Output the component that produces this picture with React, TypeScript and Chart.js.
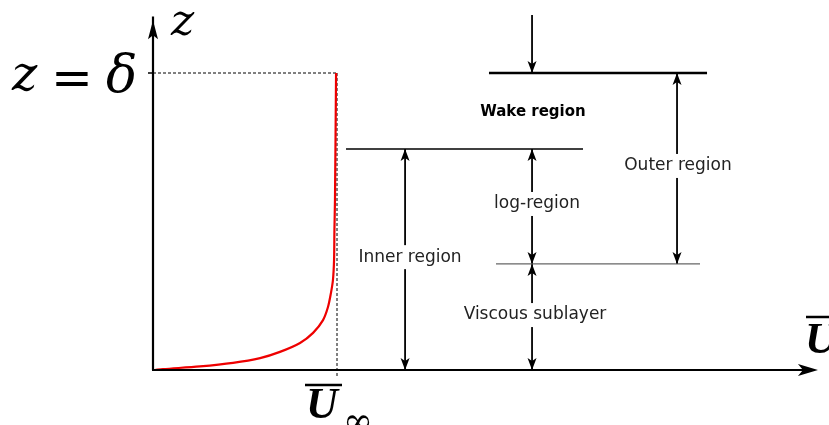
import React, { useEffect, useRef } from "react";
import { Chart, registerables } from "chart.js";

Chart.register(...registerables);

// Mean velocity profile (U / U_inf, z / delta)
const curveU = [0.011, 0.054, 0.255, 0.435, 0.582, 0.690, 0.799, 0.870, 0.924, 0.951, 0.967, 0.978, 0.984, 0.986, 0.989, 0.995];
const curveZ = [0.0, 0.003, 0.012, 0.024, 0.040, 0.061, 0.091, 0.125, 0.168, 0.212, 0.259, 0.303, 0.370, 0.471, 0.572, 1.0];

// Region boundaries (z / delta) and their horizontal extent
const boundaryZ = [1.0, 0.744, 0.357];
const boundaryX0 = [1.826, 1.049, 1.864];
const boundaryX1 = [3.011, 2.337, 2.973];
const boundaryWidth = [2.5, 1.6, 1.2];
const boundaryColor = ["#000000", "#000000", "#666666"];

// Vertical dimension arrows: x, from z, to z, heads
const arrowX = [1.370, 2.060, 2.060, 2.848, 2.060];
const arrowZ0 = [0.0, 0.357, 0.0, 0.357, 1.0];
const arrowZ1 = [0.744, 0.744, 0.357, 1.0, 1.195];
const arrowHeadLow = [true, true, true, true, true];
const arrowHeadHigh = [true, true, true, true, false];

// Region labels
const labelText = ["Wake region", "Outer region", "log-region", "Inner region", "Viscous sublayer"];
const labelX = [2.065, 2.853, 2.087, 1.397, 2.076];
const labelZ = [0.869, 0.687, 0.559, 0.380, 0.185];
const labelBold = [true, false, false, false, false];

const deltaZ = 1.0;
const uInf = 1.0;

export default function App() {
  const ref = useRef<HTMLCanvasElement | null>(null);
  useEffect(() => {
    if (!ref.current) return;
    const datasets: any[] = [];
    datasets.push({
      data: curveU.map((u, i) => ({ x: u, y: curveZ[i] })),
      borderColor: "#ee0000",
      borderWidth: 2.2,
      pointRadius: 0,
      showLine: true,
      tension: 0.3,
    });
    datasets.push({
      data: [{ x: 0, y: deltaZ }, { x: uInf, y: deltaZ }],
      borderColor: "#000",
      borderWidth: 1,
      borderDash: [3, 2],
      pointRadius: 0,
      showLine: true,
    });
    datasets.push({
      data: [{ x: uInf, y: deltaZ }, { x: uInf, y: -0.027 }],
      borderColor: "#000",
      borderWidth: 1,
      borderDash: [3, 2],
      pointRadius: 0,
      showLine: true,
    });
    boundaryZ.forEach((z, i) => {
      datasets.push({
        data: [{ x: boundaryX0[i], y: z }, { x: boundaryX1[i], y: z }],
        borderColor: boundaryColor[i],
        borderWidth: boundaryWidth[i],
        pointRadius: 0,
        showLine: true,
      });
    });
    arrowX.forEach((x, i) => {
      datasets.push({
        data: [{ x, y: arrowZ0[i] }, { x, y: arrowZ1[i] }],
        borderColor: "#000",
        borderWidth: 1.8,
        pointRadius: 0,
        showLine: true,
      });
    });

    const decor = {
      id: "decor",
      afterDatasetsDraw(chart: any) {
        const ctx = chart.ctx;
        const xs = chart.scales.x;
        const ys = chart.scales.y;
        const px = (v: number) => xs.getPixelForValue(v);
        const py = (v: number) => ys.getPixelForValue(v);
        ctx.save();
        // axes
        const ox = px(0), oy = py(0);
        ctx.strokeStyle = "#000";
        ctx.fillStyle = "#000";
        ctx.lineWidth = 2.2;
        ctx.beginPath();
        ctx.moveTo(ox, oy);
        ctx.lineTo(ox, py(1.19));
        ctx.moveTo(ox - 1, oy);
        ctx.lineTo(px(3.55), oy);
        ctx.stroke();
        // axis arrowheads
        const yt = py(1.178);
        ctx.beginPath();
        ctx.moveTo(ox, yt);
        ctx.lineTo(ox - 5, yt + 19);
        ctx.lineTo(ox, yt + 15);
        ctx.lineTo(ox + 5, yt + 19);
        ctx.closePath();
        ctx.fill();
        const xt = px(3.614);
        ctx.beginPath();
        ctx.moveTo(xt, oy);
        ctx.lineTo(xt - 20, oy - 6);
        ctx.lineTo(xt - 15, oy);
        ctx.lineTo(xt - 20, oy + 6);
        ctx.closePath();
        ctx.fill();
        // delta tick
        ctx.lineWidth = 1.5;
        ctx.beginPath();
        ctx.moveTo(ox - 5, py(deltaZ));
        ctx.lineTo(ox, py(deltaZ));
        ctx.stroke();
        // dimension arrowheads
        const head = (x: number, y: number, dir: number) => {
          ctx.beginPath();
          ctx.moveTo(x, y);
          ctx.lineTo(x - 4.5, y + dir * 12);
          ctx.lineTo(x, y + dir * 9);
          ctx.lineTo(x + 4.5, y + dir * 12);
          ctx.closePath();
          ctx.fill();
        };
        arrowX.forEach((x, i) => {
          if (arrowHeadLow[i]) head(px(x), py(arrowZ0[i]), -1);
          if (arrowHeadHigh[i]) head(px(x), py(arrowZ1[i]), 1);
        });
        // labels
        ctx.textAlign = "center";
        ctx.textBaseline = "middle";
        labelText.forEach((t, i) => {
          ctx.font = (labelBold[i] ? "bold 15px" : "17px") + " 'DejaVu Sans'";
          const w = ctx.measureText(t).width;
          const cx = px(labelX[i]), cy = py(labelZ[i]);
          ctx.fillStyle = "#fff";
          ctx.fillRect(cx - w / 2 - 4, cy - 12, w + 8, 24);
          ctx.fillStyle = labelBold[i] ? "#000" : "#222";
          ctx.fillText(t, cx, cy);
        });
        // math labels
        ctx.fillStyle = "#000";
        ctx.textAlign = "left";
        ctx.textBaseline = "alphabetic";
        ctx.font = "italic 44px 'DejaVu Serif'";
        ctx.fillText("z", 171, 35);
        ctx.font = "italic 48px 'DejaVu Serif'";
        ctx.fillText("z", 12, 90);
        ctx.font = "50px 'DejaVu Serif'";
        ctx.fillText("=", 51, 95);
        ctx.font = "italic 52px 'DejaVu Serif'";
        ctx.fillText("δ", 106, 92);
        // U_inf
        ctx.font = "italic bold 44px 'Liberation Serif'";
        ctx.fillText("U", 306, 418);
        ctx.lineWidth = 2.5;
        ctx.beginPath();
        ctx.moveTo(305, 385);
        ctx.lineTo(342, 385);
        ctx.stroke();
        ctx.font = "italic 36px 'DejaVu Serif'";
        ctx.fillText("∞", 343, 433);
        // U axis label
        ctx.font = "italic bold 44px 'Liberation Serif'";
        ctx.fillText("U", 805, 353);
        ctx.beginPath();
        ctx.moveTo(806, 317);
        ctx.lineTo(829, 317);
        ctx.stroke();
        ctx.restore();
      },
    };

    const chart = new Chart(ref.current, {
      type: "scatter",
      data: { datasets },
      options: {
        animation: false,
        responsive: false,
        layout: { padding: 0 },
        plugins: { legend: { display: false }, tooltip: { enabled: false } },
        scales: {
          x: { type: "linear", display: false, min: -153 / 184, max: (829 - 153) / 184 },
          y: { type: "linear", display: false, min: -(425 - 370) / 297, max: 370 / 297 },
        },
      },
      plugins: [decor],
    });
    return () => chart.destroy();
  }, []);
  return (
    <div style={{ position: "absolute", left: 0, top: 0, width: 829, height: 425, background: "#fff" }}>
      <canvas ref={ref} width={829} height={425} />
    </div>
  );
}
